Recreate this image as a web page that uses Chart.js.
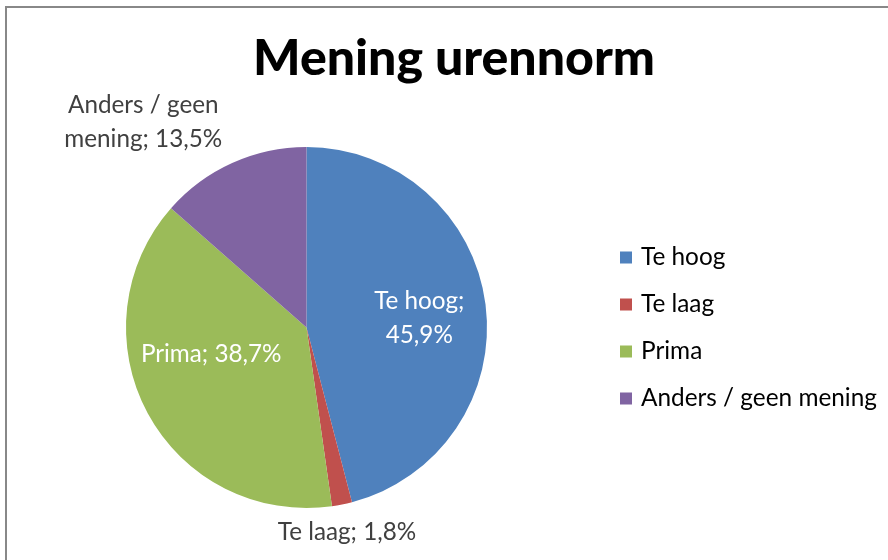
<!DOCTYPE html>
<html><head><meta charset="utf-8">
<script src="https://cdn.jsdelivr.net/npm/chart.js@4/dist/chart.umd.min.js"></script>
<style>
html,body{margin:0;padding:0;background:#fff;overflow:hidden}
#wrap{position:relative;width:888px;height:560px;overflow:hidden}
#frame{position:absolute;left:5px;top:6px;width:900px;height:600px;border-left:2px solid #888;border-top:2px solid #888;pointer-events:none}
canvas{position:absolute;left:0;top:0}
</style></head><body>
<div id="wrap"><canvas id="c" width="888" height="560"></canvas><div id="frame"></div></div>
<script>
// ---- data ----
const chartTitle = 'Mening urennorm';
const categories = ['Te hoog', 'Te laag', 'Prima', 'Anders / geen mening'];
const percentages = [45.9, 1.8, 38.7, 13.5];
const sliceColors = ['#4F81BD', '#C0504D', '#9BBB59', '#8064A2'];

// ---- presentation ----
const labelFont = 'Lato';
const legendFont = 'Lato';
const titleFont = 'Lato';

// placement of each data label: radial fraction of the radius, pixel nudge, wrap width, inside?
const labelPlacement = [
  {r: 0.63, dx: 0, dy: 5, wrap: 110, inside: true},
  {r: 1.14, dx: 0, dy: 3, wrap: 400, inside: false},
  {r: 0.60, dx: 0, dy: -25, wrap: 400, inside: true},
  {r: 1.20, dx: -74, dy: -8, wrap: 165, inside: false}
];

function fmtPct(v) { return v.toFixed(1).replace('.', ',') + '%'; }

function fitSize(ctx, text, weight, family, targetW) {
  ctx.font = weight + ' 100px "' + family + '"';
  const w = ctx.measureText(text).width;
  return 100 * targetW / w;
}

function wrapText(ctx, text, maxW) {
  const words = text.split(' ');
  const lines = [];
  let cur = '';
  for (const w of words) {
    const t = cur ? cur + ' ' + w : w;
    if (cur && ctx.measureText(t).width > maxW) { lines.push(cur); cur = w; }
    else cur = t;
  }
  if (cur) lines.push(cur);
  return lines;
}

const decorPlugin = {
  id: 'decor',
  afterDraw(chart) {
    const ctx = chart.ctx;
    ctx.save();
    // title
    const ts = fitSize(ctx, chartTitle, '900', titleFont, 402);
    ctx.font = '900 ' + ts + 'px "' + titleFont + '"';
    ctx.fillStyle = '#000';
    ctx.textAlign = 'center';
    ctx.textBaseline = 'alphabetic';
    ctx.fillText(chartTitle, 454, 75);

    // data labels
    const ls = fitSize(ctx, 'mening; 13,5%', '400', labelFont, 158);
    ctx.font = '400 ' + ls + 'px "' + labelFont + '"';
    ctx.textBaseline = 'middle';
    const meta = chart.getDatasetMeta(0);
    meta.data.forEach((arc, i) => {
      const p = arc.getProps(['x', 'y', 'startAngle', 'endAngle', 'outerRadius'], true);
      const mid = (p.startAngle + p.endAngle) / 2;
      const pl = labelPlacement[i];
      const cx = p.x + Math.cos(mid) * p.outerRadius * pl.r + pl.dx;
      const cy = p.y + Math.sin(mid) * p.outerRadius * pl.r + pl.dy;
      const text = categories[i] + '; ' + fmtPct(percentages[i]);
      const lines = wrapText(ctx, text, pl.wrap);
      const lh = ls * 1.38;
      ctx.fillStyle = pl.inside ? '#ffffff' : '#404040';
      lines.forEach((ln, k) => {
        ctx.fillText(ln, cx, cy + (k - (lines.length - 1) / 2) * lh);
      });
    });

    // legend
    const gs = fitSize(ctx, categories[3], '400', legendFont, 236);
    ctx.font = '400 ' + gs + 'px "' + legendFont + '"';
    ctx.textAlign = 'left';
    ctx.textBaseline = 'middle';
    categories.forEach((c, i) => {
      const y = 257.5 + i * 47;
      ctx.fillStyle = sliceColors[i];
      ctx.fillRect(620, y - 6, 12, 12);
      ctx.fillStyle = '#000';
      ctx.fillText(c, 641, y);
    });
    ctx.restore();
  }
};

new Chart(document.getElementById('c'), {
  type: 'pie',
  data: {
    labels: categories,
    datasets: [{
      data: percentages,
      backgroundColor: sliceColors,
      borderWidth: 0,
      hoverBorderWidth: 0,
      hoverOffset: 0
    }]
  },
  options: {
    responsive: false,
    animation: false,
    events: [],
    layout: {padding: {left: 126, right: 401, top: 147, bottom: 52}},
    plugins: {legend: {display: false}, title: {display: false}, tooltip: {enabled: false}}
  },
  plugins: [decorPlugin]
});
</script>
</body></html>
